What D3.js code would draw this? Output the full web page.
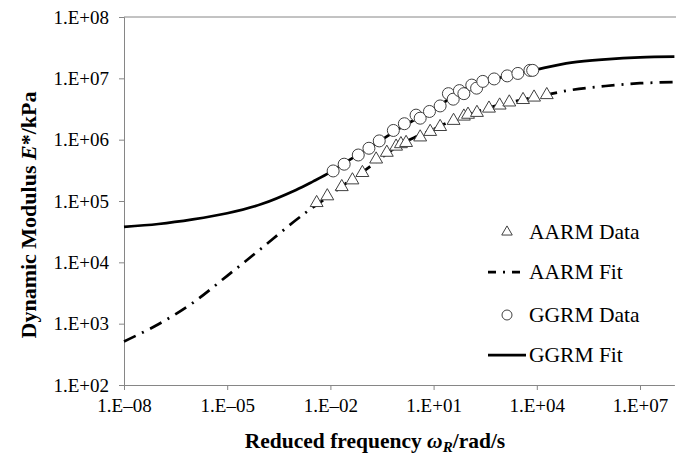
<!DOCTYPE html>
<html>
<head>
<meta charset="utf-8">
<script src="https://cdn.jsdelivr.net/npm/d3@7"></script>
<style>
  body { margin: 0; background: #fff; }
  svg { display: block; font-family: "Liberation Serif", "Times New Roman", serif; }
</style>
</head>
<body>
<svg width="676" height="458"></svg>
<script>
// values are log10 of the quantity
const aarmDataLogW = [-2.40, -2.09, -1.67, -1.36, -1.07, -0.67, -0.36, -0.09, 0.05, 0.20, 0.61, 0.90, 1.19, 1.58, 1.88, 2.00, 2.26, 2.61, 2.92, 3.20, 3.60, 3.92, 4.29];
const aarmDataLogE = [4.97, 5.08, 5.23, 5.34, 5.46, 5.68, 5.79, 5.89, 5.93, 5.95, 6.04, 6.13, 6.21, 6.31, 6.38, 6.41, 6.44, 6.51, 6.56, 6.61, 6.65, 6.69, 6.73];

const ggrmDataLogW = [-1.92, -1.60, -1.19, -0.88, -0.58, -0.17, 0.15, 0.49, 0.61, 0.88, 1.19, 1.43, 1.57, 1.75, 1.88, 2.11, 2.25, 2.43, 2.76, 3.14, 3.45, 3.80, 3.88];
const ggrmDataLogE = [5.49, 5.60, 5.75, 5.86, 5.98, 6.15, 6.26, 6.40, 6.35, 6.46, 6.55, 6.75, 6.66, 6.80, 6.75, 6.89, 6.84, 6.95, 6.99, 7.04, 7.08, 7.13, 7.13];

const fitLogW = [-8, -7, -6, -5, -4, -3, -2.5, -2, -1.5, -1, -0.5, 0, 0.5, 1, 1.5, 2, 2.5, 3, 4, 5, 6, 7, 8];
const aarmFitLogE = [2.71, 2.99, 3.34, 3.78, 4.23, 4.69, 4.90, 5.10, 5.31, 5.50, 5.71, 5.91, 6.05, 6.17, 6.30, 6.41, 6.50, 6.58, 6.70, 6.81, 6.875, 6.92, 6.94];
const ggrmFitLogE = [4.58, 4.625, 4.70, 4.80, 4.95, 5.18, 5.32, 5.47, 5.65, 5.82, 6.00, 6.18, 6.34, 6.50, 6.68, 6.85, 6.95, 7.02, 7.145, 7.255, 7.31, 7.343, 7.353];

const xTicks = [1e-8, 1e-5, 1e-2, 1e1, 1e4, 1e7];
const yTicks = [1e2, 1e3, 1e4, 1e5, 1e6, 1e7, 1e8];

const legendItems = ['AARM Data', 'AARM Fit', 'GGRM Data', 'GGRM Fit'];

const pow = v => Math.pow(10, v);
const aarmData = aarmDataLogW.map((w, i) => ({w: pow(w), e: pow(aarmDataLogE[i])}));
const ggrmData = ggrmDataLogW.map((w, i) => ({w: pow(w), e: pow(ggrmDataLogE[i])}));
const aarmFit = fitLogW.map((w, i) => ({w: pow(w), e: pow(aarmFitLogE[i])}));
const ggrmFit = fitLogW.map((w, i) => ({w: pow(w), e: pow(ggrmFitLogE[i])}));

const svg = d3.select('svg');
const plotL = 124, plotR = 674.4, plotT = 17, plotB = 385;

const xScale = d3.scaleLog().domain([1e-8, 1e8]).range([plotL, plotR]);
const yScale = d3.scaleLog().domain([1e2, 1e8]).range([plotB, plotT]);

const axisColor = '#868686';

function sciLabel(v) {
  const p = Math.round(Math.log10(v));
  const s = String(Math.abs(p)).padStart(2, '0');
  return '1.E' + (p < 0 ? '\u2013' : '+') + s;
}

// top border of plot area
svg.append('line')
  .attr('x1', plotL).attr('x2', 676)
  .attr('y1', plotT).attr('y2', plotT)
  .attr('stroke', axisColor).attr('stroke-width', 1);

// y axis
const gY = svg.append('g')
  .attr('transform', `translate(${plotL},0)`)
  .call(d3.axisLeft(yScale).tickValues(yTicks).tickFormat(sciLabel).tickSize(5).tickPadding(10));

// x axis
const gX = svg.append('g')
  .attr('transform', `translate(0,${plotB})`)
  .call(d3.axisBottom(xScale).tickValues(xTicks).tickFormat(sciLabel).tickSize(5).tickPadding(9).tickSizeOuter(0));

[gX, gY].forEach(g => {
  g.select('.domain').attr('stroke', axisColor);
  g.selectAll('.tick line').attr('stroke', axisColor);
  g.selectAll('text')
    .attr('font-family', '"Liberation Serif", serif')
    .attr('font-size', 19)
    .attr('fill', '#000');
});

// fit lines
const line = d3.line()
  .x(d => xScale(d.w))
  .y(d => yScale(d.e))
  .curve(d3.curveCatmullRom);

const dashDot = '13,7,2,7';

svg.append('path')
  .datum(aarmFit)
  .attr('d', line)
  .attr('fill', 'none')
  .attr('stroke', '#000')
  .attr('stroke-width', 2.75)
  .attr('stroke-dasharray', dashDot);

svg.append('path')
  .datum(ggrmFit)
  .attr('d', line)
  .attr('fill', 'none')
  .attr('stroke', '#000')
  .attr('stroke-width', 2.75);

// data markers
const tri = d3.symbol().type(d3.symbolTriangle).size(72);

svg.append('g').selectAll('path')
  .data(aarmData)
  .enter()
  .append('path')
  .attr('d', tri)
  .attr('transform', d => `translate(${xScale(d.w)},${yScale(d.e)})`)
  .attr('fill', '#fff')
  .attr('stroke', '#404040')
  .attr('stroke-width', 1);

svg.append('g').selectAll('circle')
  .data(ggrmData)
  .enter()
  .append('circle')
  .attr('cx', d => xScale(d.w))
  .attr('cy', d => yScale(d.e))
  .attr('r', 6)
  .attr('fill', '#fff')
  .attr('stroke', '#404040')
  .attr('stroke-width', 1);

// legend
const legY = [232, 272, 315, 355];
const leg = svg.append('g');
legendItems.forEach((name, i) => {
  const y = legY[i];
  if (i === 0) {
    leg.append('path')
      .attr('d', d3.symbol().type(d3.symbolTriangle).size(48))
      .attr('transform', `translate(507,${y})`)
      .attr('fill', '#fff').attr('stroke', '#404040');
  } else if (i === 2) {
    leg.append('circle')
      .attr('cx', 507).attr('cy', y).attr('r', 5)
      .attr('fill', '#fff').attr('stroke', '#404040');
  } else {
    leg.append('line')
      .attr('x1', 488).attr('x2', 526)
      .attr('y1', y).attr('y2', y)
      .attr('stroke', '#000').attr('stroke-width', 2.75)
      .attr('stroke-dasharray', i === 1 ? '8,7,2,7' : null);
  }
  leg.append('text')
    .attr('x', 529).attr('y', y + 7)
    .attr('font-size', 21.5)
    .text(name);
});

// axis titles
const yTitle = svg.append('text')
  .attr('transform', 'translate(36,215) rotate(-90)')
  .attr('text-anchor', 'middle')
  .attr('font-size', 22)
  .attr('font-weight', 'bold');
yTitle.append('tspan').text('Dynamic Modulus ');
yTitle.append('tspan').attr('font-style', 'italic').text('E');
yTitle.append('tspan').text('*/kPa');

const xTitle = svg.append('text')
  .attr('x', 375).attr('y', 448)
  .attr('text-anchor', 'middle')
  .attr('font-size', 21.5)
  .attr('font-weight', 'bold');
xTitle.append('tspan').text('Reduced frequency ');
xTitle.append('tspan').attr('font-style', 'italic').text('\u03c9');
xTitle.append('tspan').attr('font-style', 'italic').attr('font-size', 15).attr('dy', 4).text('R');
xTitle.append('tspan').attr('dy', -4).text('/rad/s');
</script>
</body>
</html>
